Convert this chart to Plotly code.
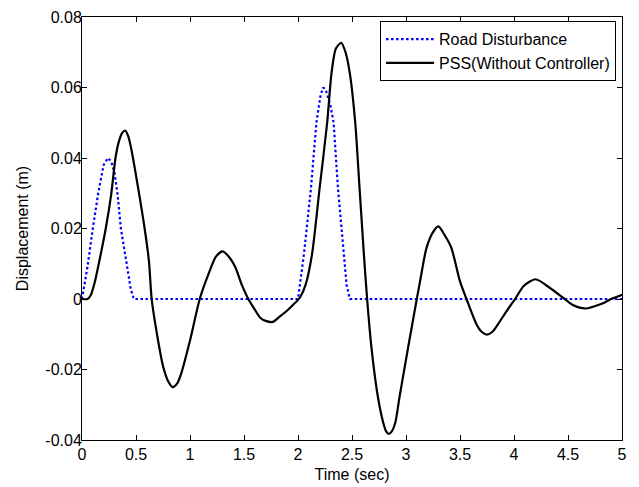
import plotly.graph_objects as go

# Road disturbance (m) vs time (sec)
t_road = [0.0, 0.05, 0.10, 0.15, 0.20, 0.24, 0.27, 0.30, 0.33, 0.36, 0.41, 0.45, 0.48,
          2.00, 2.055, 2.12, 2.17, 2.21, 2.235, 2.26, 2.30, 2.33, 2.37, 2.42, 2.45, 2.48, 5.0]
road = [0.0, 0.009, 0.020, 0.030, 0.038, 0.040, 0.039, 0.036, 0.0296, 0.020, 0.0107, 0.003, 0.0,
        0.0, 0.0127, 0.0314, 0.050, 0.058, 0.060, 0.059, 0.055, 0.050, 0.0314, 0.0127, 0.004, 0.0, 0.0]

# PSS response without controller
t_pss = [0.00, 0.05, 0.08, 0.12, 0.16, 0.22, 0.27, 0.31, 0.34, 0.37, 0.40, 0.43, 0.46, 0.53,
         0.58, 0.62, 0.645, 0.70, 0.75, 0.80, 0.84, 0.88, 0.92, 1.00, 1.09, 1.17, 1.24, 1.30,
         1.36, 1.42, 1.48, 1.54, 1.60, 1.65, 1.70, 1.765, 1.83, 1.895, 1.96, 2.02, 2.07, 2.13,
         2.20, 2.27, 2.31, 2.35, 2.40, 2.44, 2.48, 2.53, 2.57, 2.61, 2.64, 2.68, 2.74, 2.79,
         2.815, 2.84, 2.87, 2.90, 2.94, 3.02, 3.10, 3.13, 3.19, 3.25, 3.30, 3.36, 3.42, 3.50,
         3.56, 3.65, 3.70, 3.75, 3.80, 3.855, 3.93, 4.01, 4.09, 4.20, 4.33, 4.47, 4.55, 4.66,
         4.80, 4.90, 5.00]
pss = [0.0, 0.0, 0.001, 0.005, 0.0107, 0.020, 0.0296, 0.040, 0.0445, 0.047, 0.0478, 0.046,
       0.042, 0.0296, 0.020, 0.0107, 0.0, -0.011, -0.019, -0.0235, -0.025, -0.024, -0.021,
       -0.0118, 0.0, 0.007, 0.012, 0.0135, 0.012, 0.009, 0.004, 0.0, -0.003, -0.0053, -0.0062,
       -0.0065, -0.005, -0.0034, -0.0015, 0.0005, 0.004, 0.0127, 0.0314, 0.050, 0.064, 0.071,
       0.0727, 0.070, 0.064, 0.050, 0.0314, 0.0127, 0.0, -0.0137, -0.0278, -0.0352, -0.0375,
       -0.0383, -0.0375, -0.0352, -0.0278, -0.0137, 0.0, 0.005, 0.0145, 0.019, 0.0206, 0.018,
       0.0145, 0.005, 0.0, -0.007, -0.0093, -0.0101, -0.0093, -0.007, -0.0035, 0.0, 0.0037,
       0.0056, 0.0032, 0.0, -0.0018, -0.0027, -0.0015, 0.0, 0.0012]

x_ticks = [0, 0.5, 1, 1.5, 2, 2.5, 3, 3.5, 4, 4.5, 5]
x_labels = ["0", "0.5", "1", "1.5", "2", "2.5", "3", "3.5", "4", "4.5", "5"]
y_ticks = [-0.04, -0.02, 0, 0.02, 0.04, 0.06, 0.08]
y_labels = ["-0.04", "-0.02", "0", "0.02", "0.04", "0.06", "0.08"]

fig = go.Figure()
fig.add_trace(go.Scatter(x=t_road, y=road, mode="lines", name="Road Disturbance",
                         line=dict(color="#0000ff", width=2.2, dash="2.5px,2.5px")))
fig.add_trace(go.Scatter(x=t_pss, y=pss, mode="lines", name="PSS(Without Controller)",
                         line=dict(color="black", width=2.2, shape="spline", smoothing=0.7)))

axis_style = dict(showline=True, linecolor="black", linewidth=1, mirror="ticks",
                  ticks="inside", ticklen=5, tickcolor="black", showgrid=False,
                  zeroline=False, automargin=False, ticklabeloverflow="allow",
                  tickfont=dict(size=16, color="black"))

fig.update_xaxes(range=[0, 5], tickvals=x_ticks, ticktext=x_labels,
                 title=dict(text="Time (sec)", font=dict(size=16, color="black"), standoff=6),
                 **axis_style)
fig.update_yaxes(range=[-0.04, 0.08], tickvals=y_ticks, ticktext=y_labels,
                 ticklabelstandoff=-4,
                 title=dict(text="Displacement (m)", font=dict(size=16, color="black"), standoff=12),
                 **axis_style)

# the page body adds ~8px offset, so margins are shifted to compensate
fig.update_layout(
    width=639, height=487,
    margin=dict(l=74, r=25, t=9, b=55),
    paper_bgcolor="white", plot_bgcolor="white",
    font=dict(family="Arial, Liberation Sans, sans-serif", size=16, color="black"),
    legend=dict(x=0.989, y=0.99, xanchor="right", yanchor="top",
                bgcolor="white", bordercolor="black", borderwidth=1,
                itemwidth=48, font=dict(size=16), tracegroupgap=0),
)

fig.write_html("out.html")
